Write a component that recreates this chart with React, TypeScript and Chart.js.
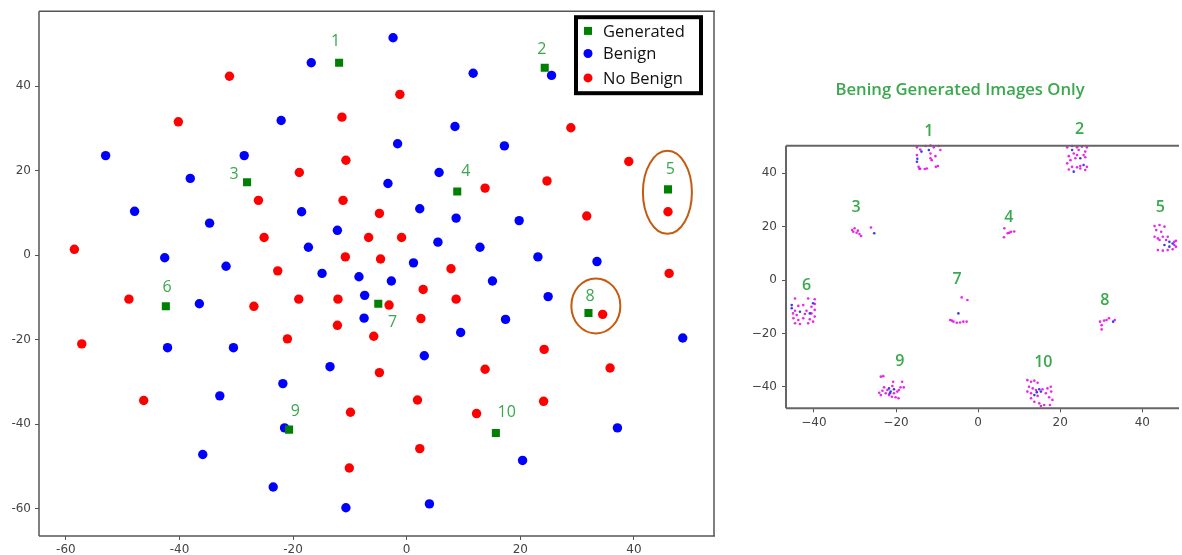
import React, { useEffect, useRef } from 'react';
import { Chart, registerables } from 'chart.js';
Chart.register(...registerables);

type P = [number, number];

// ---------- Left chart data ----------
const generatedPts: P[] = [
  [-11.9, 45.6], [24.3, 44.4], [-28.1, 17.3], [8.9, 15.1], [46.0, 15.6],
  [-42.4, -12.1], [-5.0, -11.5], [32.0, -13.7], [-20.7, -41.3], [15.7, -42.1],
];
const generatedNames = ['1', '2', '3', '4', '5', '6', '7', '8', '9', '10'];
const genLabelX = [-12.5, 23.8, -30.4, 10.4, 46.4, -42.2, -2.5, 32.3, -19.6, 17.6];
const genLabelY = [50.7, 48.8, 19.2, 19.9, 20.4, -7.6, -15.9, -9.7, -36.9, -37.2];

const benignPts: P[] = [
  [-53.0, 23.6], [-47.9, 10.4], [-38.1, 18.2], [-42.6, -0.6], [-34.7, 7.6], [-28.6, 23.6],
  [-31.8, -2.6], [-22.1, 31.9], [-16.8, 45.6], [-18.5, 10.3], [-3.3, 17.0], [-12.2, 5.9],
  [-17.3, 1.9], [-14.9, -4.3], [-8.4, -5.1], [-2.7, -6.1], [-2.4, 51.5], [-1.6, 26.4],
  [11.7, 43.1], [25.5, 42.6], [8.5, 30.5], [17.2, 25.9], [5.7, 19.6], [2.3, 11.0],
  [8.7, 8.8], [19.8, 8.2], [5.5, 3.1], [12.9, 1.9], [23.1, -0.4], [33.5, -1.5],
  [1.2, -1.8], [-36.5, -11.5], [-7.4, -9.5], [-7.5, -14.9], [-42.1, -21.9], [-30.5, -21.9],
  [-13.5, -26.4], [-21.8, -30.4], [-32.9, -33.3], [-21.5, -40.9], [-35.9, -47.2], [-23.5, -54.9],
  [-10.7, -59.8], [15.1, -6.1], [24.9, -9.8], [17.4, -15.2], [9.5, -18.3], [48.6, -19.6],
  [3.1, -23.8], [37.1, -40.9], [20.4, -48.6], [4.0, -58.9],
];

const noBenignPts: P[] = [
  [-58.5, 1.4], [-40.2, 31.6], [-31.2, 42.4], [-26.1, 13.0], [-25.1, 4.2], [-22.7, -3.7],
  [-11.4, 32.7], [-10.7, 22.5], [-18.9, 19.6], [-11.2, 13.0], [-4.8, 9.9], [-6.7, 4.2],
  [-10.8, -0.4], [-4.6, -0.9], [-1.2, 38.1], [-0.9, 4.2], [28.9, 30.2], [39.1, 22.2],
  [13.8, 15.9], [24.7, 17.6], [46.0, 10.3], [31.7, 9.3], [7.8, -3.2], [46.2, -4.3],
  [-48.9, -10.4], [-26.9, -12.1], [-19.0, -10.4], [-12.1, -10.4], [-3.1, -11.8], [-12.2, -16.6],
  [-5.8, -19.2], [-57.2, -21.0], [-21.0, -19.8], [-4.8, -27.8], [-46.3, -34.4], [-9.9, -37.2],
  [-10.1, -50.4], [2.9, -8.1], [8.7, -10.4], [2.5, -15.0], [34.5, -14.0], [24.2, -22.3],
  [35.8, -26.7], [13.8, -27.0], [1.9, -34.3], [24.1, -34.6], [12.3, -37.5], [2.3, -45.8],
];

// highlighted groups (data-coordinate centres)
const ellipseCX = [45.9, 33.3];
const ellipseCY = [14.9, -12.0];

const leftTicks = [-60, -40, -20, 0, 20, 40];

// ---------- Right chart data ----------
const genMagenta: P[] = [
  // 1
  [-14.9, 49.7], [-14.1, 48.9], [-12.8, 50.2], [-11.6, 50.4], [-10.8, 49.7], [-9.6, 50.2], [-9.2, 48.7],
  [-14.9, 46.8], [-11.6, 47.4], [-10.4, 46.4], [-14.5, 42.4], [-14.1, 41.7], [-12.5, 41.8], [-11.6, 45.6],
  [-10.3, 42.4], [-9.8, 42.7], [-11.3, 44.9], [-14.3, 41.7], [-13.0, 41.6],
  // 2
  [21.7, 49.7], [22.9, 50.2], [24.1, 49.7], [25.3, 49.9], [26.5, 49.7], [26.1, 48.1], [24.5, 48.7],
  [23.3, 47.4], [22.1, 46.4], [24.1, 46.8], [25.7, 46.8], [22.5, 44.9], [23.7, 45.6], [26.1, 46.0],
  [21.7, 43.7], [22.9, 42.4], [24.1, 42.2], [24.9, 42.7], [26.5, 42.4], [22.1, 41.4], [26.1, 41.2], [24.9, 41.8],
  // 3
  [-30.7, 18.7], [-30.1, 19.4], [-29.6, 17.7], [-28.9, 17.2], [-28.5, 16.5], [-26.1, 19.7], [-30.4, 18.1], [-29.3, 18.5],
  // 4
  [6.4, 19.4], [7.2, 17.5], [8.0, 18.1], [8.8, 18.2], [7.6, 17.7], [6.3, 16.0],
  // 5
  [43.0, 20.2], [44.2, 20.6], [45.4, 20.0], [43.4, 18.7], [44.6, 18.1], [43.0, 16.2], [43.8, 15.6],
  [45.0, 16.2], [45.8, 15.0], [47.8, 14.3], [48.2, 14.7], [47.8, 13.1], [43.8, 11.2], [45.0, 11.0],
  [46.2, 11.2], [47.4, 11.5], [44.2, 15.0], [46.2, 16.2], [48.2, 12.5],
  // 6
  [-44.6, -6.9], [-41.4, -6.9], [-39.8, -7.2], [-43.8, -9.7], [-42.6, -9.4], [-40.6, -10.0], [-44.6, -11.5],
  [-41.8, -11.5], [-39.8, -11.2], [-45.1, -12.5], [-44.2, -13.1], [-42.2, -12.7], [-40.6, -12.5], [-39.8, -13.7],
  [-45.0, -14.3], [-43.8, -15.0], [-42.6, -14.3], [-41.0, -14.7], [-44.6, -16.2], [-43.4, -16.5], [-41.4, -16.2],
  [-40.2, -15.6], [-39.8, -9.0],
  // 7
  [-4.0, -6.5], [-2.6, -7.5], [-6.8, -15.0], [-6.0, -15.6], [-5.2, -16.0], [-4.4, -15.9], [-3.6, -15.6],
  [-2.8, -15.6], [-6.4, -15.2],
  // 8
  [29.7, -15.6], [30.1, -16.9], [30.1, -18.5], [30.7, -15.2], [31.3, -15.0], [31.9, -14.3], [33.3, -15.0],
  // 9
  [-23.7, -36.2], [-23.1, -36.0], [-24.1, -42.2], [-23.7, -43.1], [-22.9, -40.2], [-22.1, -41.2], [-20.9, -39.7],
  [-20.7, -38.1], [-20.5, -42.4], [-20.1, -43.9], [-19.4, -44.3], [-18.9, -40.2], [-18.5, -38.1], [-18.1, -40.2],
  [-19.3, -41.2], [-22.5, -42.4], [-21.7, -43.1], [-21.0, -43.7], [-19.7, -41.8], [-23.3, -41.5],
  // 10
  [12.0, -37.5], [12.9, -38.1], [13.7, -37.7], [14.5, -38.5], [12.4, -40.0], [13.3, -40.6], [14.1, -41.2],
  [12.0, -41.8], [12.9, -42.4], [14.5, -43.4], [15.7, -40.9], [16.9, -40.6], [17.7, -40.0], [17.8, -41.8],
  [17.3, -43.9], [18.1, -44.9], [13.7, -45.6], [14.9, -46.2], [15.3, -47.2], [16.1, -46.8], [17.5, -46.8],
  [12.9, -44.3], [16.5, -42.4],
];

const genBlue: P[] = [
  [-13.8, 48.1], [-14.9, 44.3], [-12.0, 48.7], [-14.8, 45.4],
  [24.9, 45.6], [25.7, 43.1], [23.3, 40.6], [22.9, 48.7],
  [-25.3, 17.5],
  [45.4, 13.1], [46.6, 14.3], [47.4, 13.7], [46.6, 12.5],
  [-45.4, -9.4], [-43.4, -11.9], [-41.0, -12.5], [-40.2, -8.7], [-45.4, -10.6],
  [-4.8, -12.5],
  [32.9, -15.6],
  [-21.7, -40.6], [-21.3, -41.8], [-21.5, -42.4], [-20.5, -40.9],
  [14.9, -40.9], [15.3, -41.8], [13.7, -43.1], [14.3, -42.0],
];

const clusterNames = ['1', '2', '3', '4', '5', '6', '7', '8', '9', '10'];
const clusterLabelX = [-12.0, 24.7, -29.7, 7.5, 44.4, -41.8, -5.1, 30.9, -19.1, 15.9];
const clusterLabelY = [55.8, 56.4, 27.1, 23.3, 27.1, -1.9, 0.4, -7.8, -30.6, -31.0];

const rightTicks = [-40, -20, 0, 20, 40];

// ---------- helpers ----------
const toXY = (arr: P[]) => arr.map(([x, y]) => ({ x, y }));
const GREEN_TXT = '#3aa84c';
const tickFont = { family: 'DejaVu Sans', size: 12 };

const framePlugin = {
  id: 'frame',
  afterDraw(chart: any, _a: any, opts: any) {
    const { left, right, top, bottom } = chart.chartArea;
    const ctx = chart.ctx;
    ctx.save();
    ctx.strokeStyle = opts.color || '#555';
    ctx.lineWidth = opts.width || 1;
    ctx.beginPath();
    const sides: string[] = opts.sides || ['left', 'right', 'top', 'bottom'];
    if (sides.includes('top')) { ctx.moveTo(left, top); ctx.lineTo(right + 1, top); }
    if (sides.includes('bottom')) { ctx.moveTo(left, bottom); ctx.lineTo(right + 1, bottom); }
    if (sides.includes('left')) { ctx.moveTo(left, top); ctx.lineTo(left, bottom); }
    if (sides.includes('right')) { ctx.moveTo(right, top); ctx.lineTo(right, bottom); }
    ctx.stroke();
    ctx.restore();
  },
};

const leftAnnot = {
  id: 'leftAnnot',
  afterDraw(chart: any) {
    const ctx = chart.ctx;
    const xs = chart.scales.x;
    const ys = chart.scales.y;
    ctx.save();
    // ellipses
    ctx.strokeStyle = '#c55a11';
    ctx.lineWidth = 2;
    const radii = [[24.5, 41.5], [24.5, 27.5]];
    ellipseCX.forEach((cx, i) => {
      ctx.beginPath();
      ctx.ellipse(xs.getPixelForValue(cx), ys.getPixelForValue(ellipseCY[i]), radii[i][0], radii[i][1], 0, 0, Math.PI * 2);
      ctx.stroke();
    });
    // number labels
    ctx.fillStyle = GREEN_TXT;
    ctx.font = '16px "Open Sans"';
    ctx.textAlign = 'center';
    ctx.textBaseline = 'middle';
    generatedNames.forEach((t, i) => {
      ctx.fillText(t, xs.getPixelForValue(genLabelX[i]), ys.getPixelForValue(genLabelY[i]));
    });
    // legend
    const { right, top } = chart.chartArea;
    const bx = right - 11 - 129;
    const by = top + 4;
    ctx.fillStyle = '#fff';
    ctx.fillRect(bx, by, 129, 80);
    ctx.strokeStyle = '#000';
    ctx.lineWidth = 4;
    ctx.strokeRect(bx + 2, by + 2, 125, 76);
    const items = [
      { t: 'Generated', c: '#008000', sq: true, y: 15.7 },
      { t: 'Benign', c: '#0000ff', sq: false, y: 38.3 },
      { t: 'No Benign', c: '#ff0000', sq: false, y: 62.7 },
    ];
    ctx.font = '16.5px "Open Sans"';
    ctx.textAlign = 'left';
    items.forEach((it) => {
      const mx = bx + 14;
      const my = by + it.y;
      ctx.fillStyle = it.c;
      if (it.sq) {
        ctx.fillRect(mx - 4, my - 4, 8, 8);
      } else {
        ctx.beginPath();
        ctx.arc(mx, my, 4.5, 0, Math.PI * 2);
        ctx.fill();
      }
      ctx.fillStyle = '#111';
      ctx.fillText(it.t, bx + 29, my + 1);
    });
    ctx.restore();
  },
};

const rightAnnot = {
  id: 'rightAnnot',
  afterDraw(chart: any) {
    const ctx = chart.ctx;
    const xs = chart.scales.x;
    const ys = chart.scales.y;
    ctx.save();
    ctx.fillStyle = GREEN_TXT;
    ctx.font = '600 16px "Open Sans"';
    ctx.textAlign = 'center';
    ctx.textBaseline = 'middle';
    clusterNames.forEach((t, i) => {
      ctx.fillText(t, xs.getPixelForValue(clusterLabelX[i]), ys.getPixelForValue(clusterLabelY[i]));
    });
    ctx.restore();
  },
};

function axisOpts(min: number, max: number, ticks: number[], minusChar: string, fit: (s: any) => void, pad: number) {
  return {
    type: 'linear' as const,
    min,
    max,
    afterFit: fit,
    afterBuildTicks: (s: any) => { s.ticks = ticks.map((v) => ({ value: v })); },
    grid: { drawOnChartArea: false, drawTicks: true, tickLength: 4, tickColor: '#555', tickWidth: 1 },
    border: { display: false },
    ticks: {
      padding: pad,
      color: '#444',
      font: tickFont,
      callback: (v: any) => (Number(v) < 0 ? minusChar + Math.abs(Number(v)) : String(v)),
    },
  };
}

function LeftChart() {
  const ref = useRef<HTMLCanvasElement>(null);
  useEffect(() => {
    if (!ref.current) return;
    const chart = new Chart(ref.current, {
      type: 'scatter',
      data: {
        datasets: [
          { label: 'Generated', data: toXY(generatedPts), backgroundColor: '#008000', borderWidth: 0, pointStyle: 'rect', pointRadius: 5.7 },
          { label: 'Benign', data: toXY(benignPts), backgroundColor: '#0000ff', borderWidth: 0, pointRadius: 4.7 },
          { label: 'No Benign', data: toXY(noBenignPts), backgroundColor: '#ff0000', borderWidth: 0, pointRadius: 4.7 },
        ],
      },
      options: {
        responsive: false,
        animation: false,
        layout: { padding: { left: 0, right: 6, top: 11, bottom: 0 } },
        plugins: {
          legend: { display: false },
          tooltip: { enabled: false },
          frame: { color: '#555', width: 1.5 },
        } as any,
        scales: {
          x: axisOpts(-64.73, 54.1, leftTicks, '-', (s: any) => { s.height = 19; }, 3) as any,
          y: axisOpts(-66.5, 57.8, leftTicks, '-', (s: any) => { s.width = 39; }, 4) as any,
        },
      },
      plugins: [framePlugin, leftAnnot],
    });
    return () => chart.destroy();
  }, []);
  return <canvas ref={ref} width={720} height={555} style={{ position: 'absolute', left: 0, top: 0, width: 720, height: 555 }} />;
}

function RightChart() {
  const ref = useRef<HTMLCanvasElement>(null);
  useEffect(() => {
    if (!ref.current) return;
    const chart = new Chart(ref.current, {
      type: 'scatter',
      data: {
        datasets: [
          { label: 'blue', data: toXY(genBlue), backgroundColor: 'rgba(40,40,230,0.9)', borderWidth: 0, pointRadius: 1.3, clip: false } as any,
          { label: 'magenta', data: toXY(genMagenta), backgroundColor: 'rgba(230,0,230,0.85)', borderWidth: 0, pointRadius: 1.3, clip: false } as any,
        ],
      },
      options: {
        responsive: false,
        animation: false,
        layout: { padding: { left: 18, right: 0, top: 0, bottom: 116.7 } },
        plugins: {
          legend: { display: false },
          tooltip: { enabled: false },
          title: {
            display: true,
            text: 'Bening Generated Images Only',
            color: GREEN_TXT,
            font: { family: 'Open Sans', size: 16.7, weight: '600', lineHeight: 1.2 },
            padding: { top: 80.7, bottom: 45 },
          },
          frame: { color: '#666', width: 2, sides: ['left', 'top', 'bottom'] },
        } as any,
        scales: {
          x: axisOpts(-46.8, 48.7, rightTicks, '\u2212', (s: any) => { s.height = 30; }, 3) as any,
          y: axisOpts(-48.05, 50.3, rightTicks, '\u2212', (s: any) => { s.width = 48; }, 5) as any,
        },
      },
      plugins: [framePlugin, rightAnnot],
    });
    return () => chart.destroy();
  }, []);
  return <canvas ref={ref} width={462} height={555} style={{ position: 'absolute', left: 720, top: 0, width: 462, height: 555 }} />;
}

export default function App() {
  return (
    <div style={{ position: 'fixed', left: 0, top: 0, width: 1182, height: 555, background: '#fff', overflow: 'hidden' }}>
      <LeftChart />
      <RightChart />
    </div>
  );
}
